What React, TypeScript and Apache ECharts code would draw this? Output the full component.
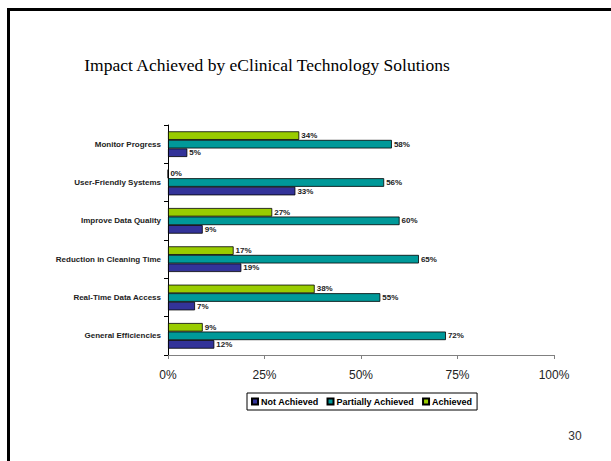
import React, { useEffect, useRef } from "react";
import * as echarts from "echarts";

const categories = [
  "General Efficiencies",
  "Real-Time Data Access",
  "Reduction in Cleaning Time",
  "Improve Data Quality",
  "User-Friendly Systems",
  "Monitor Progress",
];
const notAchieved = [12, 7, 19, 9, 33, 5];
const partiallyAchieved = [72, 55, 65, 60, 56, 58];
const achieved = [9, 38, 17, 27, 0, 34];
const seriesNames = ["Not Achieved", "Partially Achieved", "Achieved"];
const colors = ["#333399", "#009999", "#99CC00"];

export default function App() {
  const ref = useRef<HTMLDivElement>(null);
  useEffect(() => {
    if (!ref.current) return;
    const chart = echarts.init(ref.current, null, { renderer: "svg" });
    const data = [notAchieved, partiallyAchieved, achieved];
    const order = [2, 1, 0];
    chart.setOption({
      animation: false,
      backgroundColor: "#ffffff",
      title: {
        text: "Impact Achieved by eClinical Technology Solutions",
        left: 262,
        top: 51,
        textAlign: "center",
        textStyle: {
          fontFamily: "Liberation Serif",
          fontSize: 17.5,
          fontWeight: "normal",
          color: "#000",
        },
      },
      graphic: [
        { type: "rect", shape: { x: 7, y: 8, width: 3, height: 461 }, style: { fill: "#000" } },
        { type: "rect", shape: { x: 7, y: 8, width: 611, height: 3 }, style: { fill: "#000" } },
        {
          type: "text",
          x: 575,
          y: 436,
          style: {
            text: "30",
            fontFamily: "Liberation Sans",
            fontSize: 12,
            fill: "#333",
            align: "center",
            verticalAlign: "middle",
          },
        },
      ],
      legend: {
        data: seriesNames,
        left: 247,
        top: 393,
        padding: [4, 5, 4, 4],
        itemGap: 8,
        itemWidth: 6,
        itemHeight: 6,
        icon: "rect",
        borderColor: "#000",
        borderWidth: 1,
        textStyle: {
          fontFamily: "Liberation Sans",
          fontSize: 9,
          fontWeight: "bold",
          color: "#000",
          padding: [0, 0, 0, -2],
        },
      },
      grid: { left: 168, right: 57, top: 125, bottom: 106, containLabel: false },
      xAxis: {
        type: "value",
        min: 0,
        max: 100,
        interval: 25,
        splitLine: { show: false },
        axisLine: { show: true, lineStyle: { color: "#808080", width: 1 } },
        axisTick: { show: true, length: 4, lineStyle: { color: "#808080" } },
        axisLabel: {
          formatter: "{value}%",
          fontFamily: "Liberation Sans",
          fontSize: 12,
          color: "#222",
          margin: 14,
        },
      },
      yAxis: {
        type: "category",
        data: categories,
        axisLine: { show: true, lineStyle: { color: "#000", width: 1 } },
        axisTick: { show: true, length: 4, lineStyle: { color: "#000" } },
        axisLabel: {
          fontFamily: "Liberation Sans",
          fontSize: 8,
          fontWeight: "bold",
          color: "#222",
          margin: 7,
        },
      },
      series: order.map((i) => ({
        name: seriesNames[i],
        type: "bar",
        data: data[i],
        barGap: "0%",
        barCategoryGap: "33%",
        itemStyle: { color: colors[i], borderColor: "#000", borderWidth: 0.8 },
        label: {
          show: true,
          position: "right",
          distance: 2,
          formatter: "{c}%",
          fontFamily: "Liberation Sans",
          fontSize: 8,
          fontWeight: "bold",
          color: "#222",
        },
      })),
    });
    return () => chart.dispose();
  }, []);
  return (
    <div
      ref={ref}
      style={{ position: "fixed", left: 0, top: 0, width: 611, height: 461 }}
    />
  );
}
